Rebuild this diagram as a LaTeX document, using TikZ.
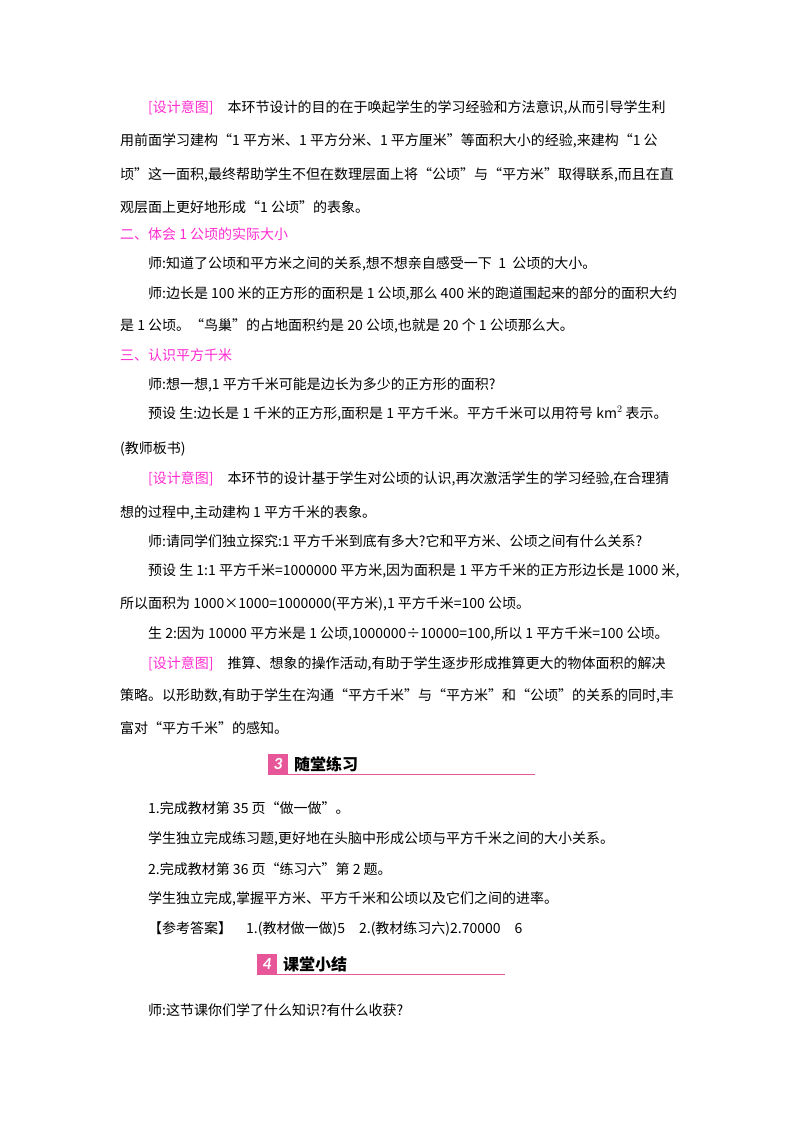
\documentclass[tikz,border=0pt]{standalone}
\usepackage{fontspec}
\setmainfont{Noto Sans CJK SC}
\newfontfamily\latn{Carlito}
\definecolor{pk}{HTML}{FF2BD0}
\definecolor{pkb}{HTML}{E8569A}
\begin{document}
\begin{tikzpicture}[x=1pt,y=-1pt,
  ln/.style={anchor=base west,inner sep=0pt,font=\fontsize{14}{17}\selectfont},
  pl/.style={ln,text=pk}]
\useasboundingbox[fill=white] (0,0) rectangle (800,1132);
\node[ln] (l1) at (148,112) {\textcolor{pk}{[设计意图]}\hspace{1em}本环节设计的目的在于唤起学生的学习经验和方法意识,从而引导学生利};
\node[ln] (l2) at (120,145) {用前面学习建构“1 平方米、1 平方分米、1 平方厘米”等面积大小的经验,来建构“1 公};
\node[ln] (l3) at (120,179) {顷”这一面积,最终帮助学生不但在数理层面上将“公顷”与“平方米”取得联系,而且在直};
\node[ln] (l4) at (120,212) {观层面上更好地形成“1 公顷”的表象。};
\node[pl] (h2) at (120,239) {二、体会 1 公顷的实际大小};
\node[ln] (l5) at (148,268) {师:知道了公顷和平方米之间的关系,想不想亲自感受一下\ \ 1\ \ 公顷的大小。};
\node[ln] (l6) at (148,298) {师:边长是 100 米的正方形的面积是 1 公顷,那么 400 米的跑道围起来的部分的面积大约};
\node[ln] (l7) at (120,330) {是 1 公顷。“鸟巢”的占地面积约是 20 公顷,也就是 20 个 1 公顷那么大。};
\node[pl] (h3) at (120,360) {三、认识平方千米};
\node[ln] (l8) at (148,389) {师:想一想,1 平方千米可能是边长为多少的正方形的面积?};
\node[ln] (l9) at (148,418) {预设\ 生:边长是 1 千米的正方形,面积是 1 平方千米。平方千米可以用符号 km$^2$\ 表示。};
\node[ln] (l10) at (120,453) {(教师板书)};
\node[ln] (l11) at (148,483) {\textcolor{pk}{[设计意图]}\hspace{1em}本环节的设计基于学生对公顷的认识,再次激活学生的学习经验,在合理猜};
\node[ln] (l12) at (120,517) {想的过程中,主动建构 1 平方千米的表象。};
\node[ln] (l13) at (148,546) {师:请同学们独立探究:1 平方千米到底有多大?它和平方米、公顷之间有什么关系?};
\node[ln] (l14) at (148,575) {预设\ 生 1:1 平方千米=1000000 平方米,因为面积是 1 平方千米的正方形边长是 1000 米,};
\node[ln] (l15) at (120,608) {所以面积为 1000×1000=1000000(平方米),1 平方千米=100 公顷。};
\node[ln] (l16) at (148,638) {生 2:因为 10000 平方米是 1 公顷,1000000÷10000=100,所以 1 平方千米=100 公顷。};
\node[ln] (l17) at (148,668) {\textcolor{pk}{[设计意图]}\hspace{1em}推算、想象的操作活动,有助于学生逐步形成推算更大的物体面积的解决};
\node[ln] (l18) at (120,700) {策略。以形助数,有助于学生在沟通“平方千米”与“平方米”和“公顷”的关系的同时,丰};
\node[ln] (l19) at (120,733) {富对“平方千米”的感知。};
% header 3
\draw[pkb,line width=1pt] (268,774) -- (535,774);
\node[fill=pkb,minimum width=20pt,minimum height=20pt,inner sep=0pt,text=white,font=\latn\bfseries\itshape\fontsize{17}{17}\selectfont] (b3) at (278,764) {3};
\node[ln,font=\bfseries\fontsize{16}{17}\selectfont] (t3) at (294,770) {随堂练习};
\node[ln] (l20) at (148,813) {1.完成教材第 35 页“做一做”。};
\node[ln] (l21) at (148,843) {学生独立完成练习题,更好地在头脑中形成公顷与平方千米之间的大小关系。};
\node[ln] (l22) at (148,874) {2.完成教材第 36 页“练习六”第 2 题。};
\node[ln] (l23) at (148,903) {学生独立完成,掌握平方米、平方千米和公顷以及它们之间的进率。};
\node[ln] (l24) at (148,933) {【参考答案】\hspace{1em}1.(教材做一做)5\hspace{1em}2.(教材练习六)2.70000\hspace{1em}6};
% header 4
\draw[pkb,line width=1pt] (257,974) -- (505,974);
\node[fill=pkb,minimum width=20pt,minimum height=20pt,inner sep=0pt,text=white,font=\latn\bfseries\itshape\fontsize{17}{17}\selectfont] (b4) at (267,964) {4};
\node[ln,font=\bfseries\fontsize{16}{17}\selectfont] (t4) at (283,970) {课堂小结};
\node[ln] (l25) at (148,1015) {师:这节课你们学了什么知识?有什么收获?};
\end{tikzpicture}
\end{document}
